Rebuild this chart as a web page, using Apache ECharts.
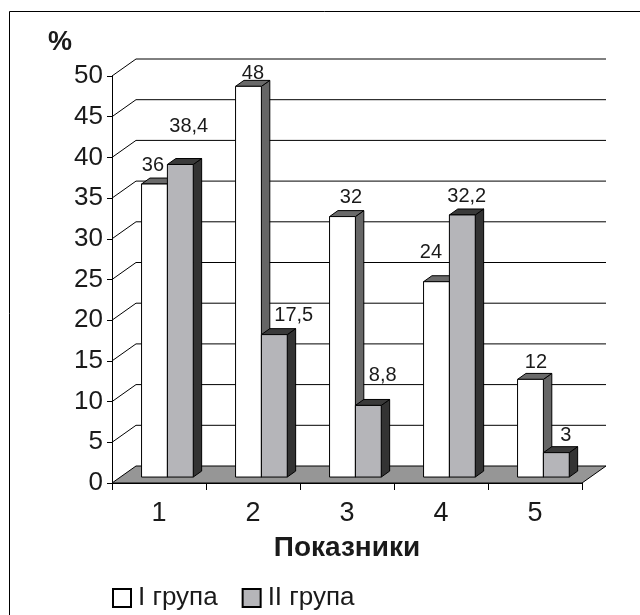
<!DOCTYPE html>
<html>
<head>
<meta charset="utf-8">
<script src="https://cdn.jsdelivr.net/npm/echarts@6/dist/echarts.min.js"></script>
<style>
  html, body { margin: 0; padding: 0; background: #fff; }
  #chart { width: 640px; height: 615px; }
</style>
</head>
<body>
<div id="chart"></div>
<script>
// Indicators on the category axis
const categories = ['1', '2', '3', '4', '5'];
// Percentages per group
const groupOne = [36, 48, 32, 24, 12];
const groupTwo = [38.4, 17.5, 8.8, 32.2, 3];
const seriesNames = ['I група', 'II група'];
// Value axis range
const yMin = 0;
const yMax = 50;
const yStep = 5;

// Pseudo-3D depth of the plot box (screen pixels) and bar placement inside that depth
const DX = 24, DY = -17;
const F0 = 0.35, F1 = 0.70;
const BAR_SHARE = 0.275;
const TEXT = '#1a1a1a';
const FONT = '"Liberation Sans", Arial, sans-serif';

// Small pixel nudges for value labels that would otherwise crowd a neighbouring bar
const labelNudgeOne = [[-10, 0], [-4, 6], [0, 0], [-14, -10], [-3, 2]];
const labelNudgeTwo = [[0, -19], [11, 0], [6, -11], [-4, 0], [1, 2]];

function fmt(v) { return String(v).replace('.', ','); }

// Floor, back wall gridlines and left wall diagonals
function renderWalls(params, api) {
  const cs = params.coordSys;
  const x0 = cs.x, x1 = cs.x + cs.width;
  const y0 = api.coord([0, yMin])[1];
  const children = [];
  children.push({
    type: 'polygon',
    shape: { points: [[x0, y0], [x1, y0], [x1 + DX, y0 + DY], [x0 + DX, y0 + DY]] },
    style: { fill: '#969696', stroke: '#000', lineWidth: 1 }
  });
  for (let v = yMin + yStep; v <= yMax + 1e-9; v += yStep) {
    const y = api.coord([0, v])[1];
    children.push({
      type: 'line',
      shape: { x1: x0 + DX, y1: y + DY, x2: x1 + DX, y2: y + DY },
      style: { stroke: '#000', lineWidth: 1 }
    });
    children.push({
      type: 'line',
      shape: { x1: x0, y1: y, x2: x0 + DX, y2: y + DY },
      style: { stroke: '#000', lineWidth: 1 }
    });
  }
  return { type: 'group', children: children };
}

function barGeometry(api, idx, val, side) {
  const base = api.coord([idx, 0]);
  const top = api.coord([idx, val]);
  const bw = api.size([1, 0])[0] * BAR_SHARE;
  const L = (side === 0 ? base[0] - bw : base[0]) + DX * F0;
  return {
    L: L, R: L + bw, bw: bw,
    B: base[1] + DY * F0, T: top[1] + DY * F0,
    bx: DX * (F1 - F0), by: DY * (F1 - F0)
  };
}

function makeBarRenderer(side, face, topFill, sideFill) {
  return function (params, api) {
    const g = barGeometry(api, api.value(0), api.value(1), side);
    const edge = { stroke: '#000', lineWidth: 1, lineJoin: 'miter' };
    return {
      type: 'group',
      children: [
        { type: 'polygon',
          shape: { points: [[g.R, g.T], [g.R + g.bx, g.T + g.by], [g.R + g.bx, g.B + g.by], [g.R, g.B]] },
          style: Object.assign({ fill: sideFill }, edge) },
        { type: 'polygon',
          shape: { points: [[g.L, g.T], [g.R, g.T], [g.R + g.bx, g.T + g.by], [g.L + g.bx, g.T + g.by]] },
          style: Object.assign({ fill: topFill }, edge) },
        { type: 'rect',
          shape: { x: g.L, y: g.T, width: g.bw, height: g.B - g.T },
          style: Object.assign({ fill: face }, edge) }
      ]
    };
  };
}

// Value labels above each bar
function renderLabels(params, api) {
  const idx = api.value(0);
  const nudges = [labelNudgeOne[idx], labelNudgeTwo[idx]];
  const children = [];
  [api.value(1), api.value(2)].forEach(function (val, side) {
    const g = barGeometry(api, idx, val, side);
    children.push({
      type: 'text',
      x: g.L + g.bw / 2 + g.bx + nudges[side][0],
      y: g.T + g.by - 3 + nudges[side][1],
      style: {
        text: fmt(val), fill: TEXT, fontSize: 20, fontFamily: FONT,
        align: 'center', verticalAlign: 'bottom'
      }
    });
  });
  return { type: 'group', children: children };
}

const chart = echarts.init(document.getElementById('chart'), null, { renderer: 'canvas' });

chart.setOption({
  backgroundColor: '#fff',
  animation: false,
  textStyle: { fontFamily: FONT, color: TEXT },
  title: {
    text: '%', left: 43, top: 24,
    textStyle: { fontSize: 27, fontWeight: 'bold', color: TEXT, fontFamily: FONT }
  },
  grid: { left: 112, right: 58, top: 76, bottom: 132, containLabel: false },
  xAxis: {
    type: 'category',
    data: categories,
    axisLine: { show: true, lineStyle: { color: '#000', width: 1 } },
    axisTick: { show: true, length: 7, inside: false, lineStyle: { color: '#000' } },
    axisLabel: { fontSize: 27, color: TEXT, margin: 17, fontFamily: FONT },
    name: 'Показники',
    nameLocation: 'middle',
    nameGap: 51,
    nameTextStyle: { fontSize: 28, fontWeight: 'bold', color: TEXT, fontFamily: FONT },
    splitLine: { show: false }
  },
  yAxis: {
    type: 'value',
    min: yMin, max: yMax, interval: yStep,
    axisLine: { show: true, lineStyle: { color: '#000', width: 1 } },
    axisTick: { show: true, length: 5, lineStyle: { color: '#000' } },
    axisLabel: { fontSize: 26, color: TEXT, margin: 9, fontFamily: FONT },
    splitLine: { show: false }
  },
  legend: {
    data: seriesNames,
    left: 107, top: 580,
    icon: 'rect', itemWidth: 18, itemHeight: 18, itemGap: 24,
    textStyle: { fontSize: 26, color: TEXT, fontFamily: FONT, padding: [0, 0, 0, 2] }
  },
  graphic: [
    { type: 'line', shape: { x1: 9.5, y1: 11.5, x2: 9.5, y2: 615 }, style: { stroke: '#000', lineWidth: 1 }, silent: true },
    { type: 'line', shape: { x1: 9.5, y1: 11.5, x2: 640, y2: 11.5 }, style: { stroke: '#000', lineWidth: 1 }, silent: true }
  ],
  series: [
    {
      type: 'custom', name: 'walls', z: 1,
      renderItem: renderWalls,
      data: [[0, 0]],
      silent: true
    },
    {
      type: 'custom', name: seriesNames[0], z: 2,
      renderItem: makeBarRenderer(0, '#ffffff', '#6a6a6a', '#666666'),
      itemStyle: { color: '#ffffff', borderColor: '#000', borderWidth: 1 },
      data: groupOne.map(function (v, i) { return [i, v]; })
    },
    {
      type: 'custom', name: seriesNames[1], z: 3,
      renderItem: makeBarRenderer(1, '#b5b5b9', '#3a3a3a', '#333333'),
      itemStyle: { color: '#b5b5b9', borderColor: '#000', borderWidth: 1 },
      data: groupTwo.map(function (v, i) { return [i, v]; })
    },
    {
      type: 'custom', name: 'labels', z: 4,
      renderItem: renderLabels,
      data: groupOne.map(function (v, i) { return [i, v, groupTwo[i]]; }),
      silent: true
    }
  ]
});
</script>
</body>
</html>
